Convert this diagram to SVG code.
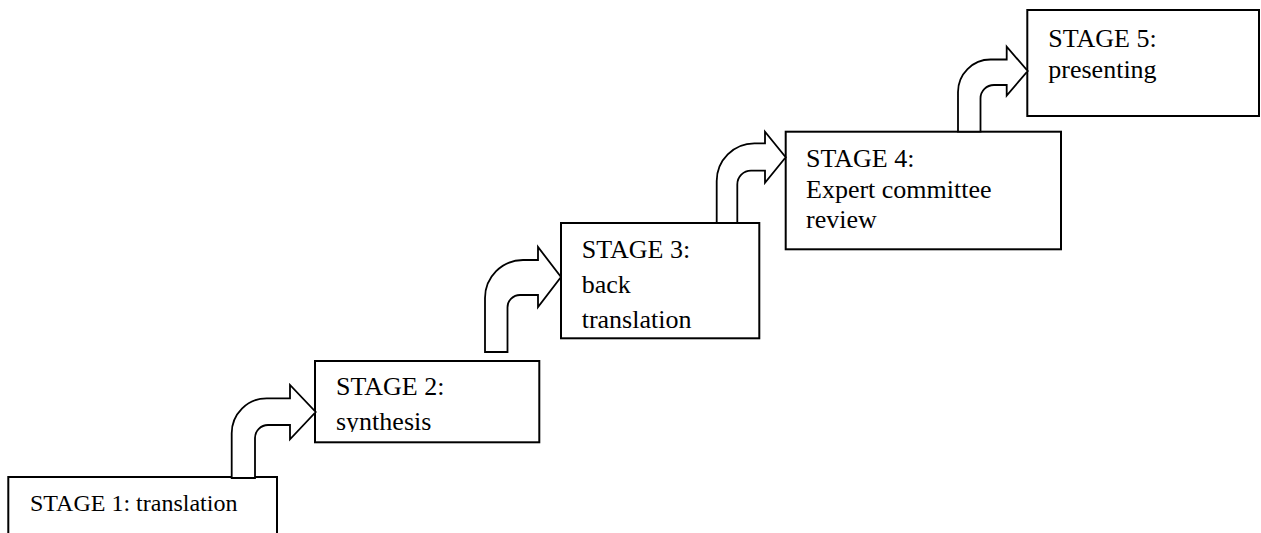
<svg xmlns="http://www.w3.org/2000/svg" width="1261" height="533" viewBox="0 0 1261 533">
<defs>
<style>
.box{fill:#fff;stroke:#000;stroke-width:2}
.arr{fill:#fff;stroke:#000;stroke-width:1.8;stroke-linejoin:miter}
.t{font-family:"Liberation Serif","Times New Roman",serif;font-size:26px;fill:#000}
.t1{font-size:24px}
</style>
<clipPath id="c2"><rect x="315" y="361" width="224" height="71"/></clipPath>
</defs>
<rect width="1261" height="533" fill="#fff"/>
<g id="stage1">
<rect class="box" x="8.3" y="477" width="268.7" height="70"/>
<text class="t t1" x="30" y="510.7">STAGE 1: translation</text>
</g>
<g id="stage2">
<rect class="box" x="315" y="361" width="224.3" height="81.3"/>
<g clip-path="url(#c2)">
<text class="t" x="336" y="395">STAGE 2:</text>
<text class="t" x="336" y="430">synthesis</text>
</g>
</g>
<g id="stage3">
<rect class="box" x="561" y="223" width="198.3" height="115.3"/>
<text class="t" x="581.7" y="258">STAGE 3:</text>
<text class="t" x="581.7" y="293">back</text>
<text class="t" x="581.7" y="328">translation</text>
</g>
<g id="stage4">
<rect class="box" x="785.7" y="131.7" width="275.3" height="117.6"/>
<text class="t" x="806" y="166.7">STAGE 4:</text>
<text class="t" x="806" y="197.7">Expert committee</text>
<text class="t" x="806" y="228.3">review</text>
</g>
<g id="stage5">
<rect class="box" x="1027.3" y="10" width="231.7" height="106"/>
<text class="t" x="1048.3" y="46.7">STAGE 5:</text>
<text class="t" x="1048.3" y="78.3">presenting</text>
</g>
<g id="connectors">
<path class="arr" d="M231.7,478 L231.7,433.3 A35,35 0 0 1 266.7,398.3 L290,398.3 L290,385 L315.7,412 L290,439.3 L290,425 L268,425 A13,13 0 0 0 255,438 L255,478 Z"/>
<path class="arr" d="M485,352 L485,298 A38,38 0 0 1 523,260 L538,260 L538,247 L561,277 L538,307 L538,295 L520,295 A12.5,12.5 0 0 0 507.5,307.5 L507.5,352 Z"/>
<path class="arr" d="M716.7,223 L716.7,181 A37.7,37.7 0 0 1 754.4,143.3 L765,143.3 L765,131.7 L785.7,157.3 L765,182.7 L765,170.7 L751,170.7 A13.7,13.7 0 0 0 737.3,184.4 L737.3,223 Z"/>
<path class="arr" d="M958,131.7 L958,92 A32.5,32.5 0 0 1 990.5,59.5 L1006.7,59.5 L1006.7,46.7 L1027.7,71 L1006.7,95.5 L1006.7,85 L994,85 A13.5,13.5 0 0 0 980.5,98.5 L980.5,131.7 Z"/>
</g>
</svg>
